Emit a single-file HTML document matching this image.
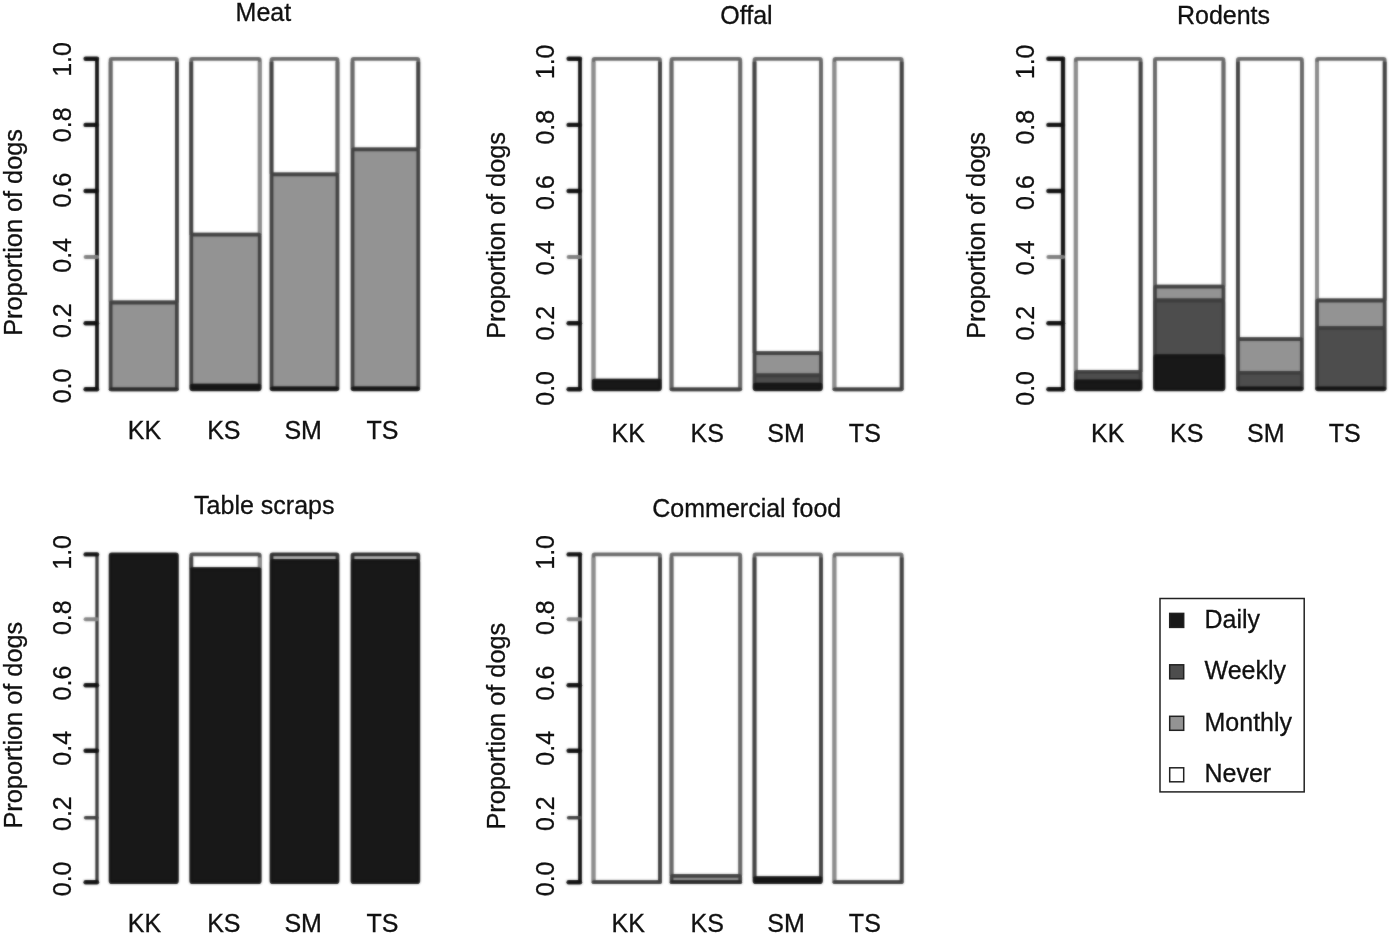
<!DOCTYPE html>
<html lang="en"><head><meta charset="utf-8"><title>Proportion of dogs fed food types</title>
<style>html,body{margin:0;padding:0;background:#fff}body{width:1400px;height:938px;overflow:hidden}svg{display:block;filter:grayscale(1)}text{font-family:"Liberation Sans", sans-serif;fill:#111;stroke:#111;stroke-width:.3px}</style></head><body>
<svg width="1400" height="938" viewBox="0 0 1400 938">
<defs><filter id="soft" color-interpolation-filters="sRGB" x="-5%" y="-5%" width="110%" height="110%"><feGaussianBlur in="SourceGraphic" stdDeviation="0.85" result="b"/><feComposite in="SourceGraphic" in2="b" operator="arithmetic" k1="0" k2="0.4" k3="0.6" k4="0"/></filter></defs>
<rect width="1400" height="938" fill="#fff"/>
<g>
<g filter="url(#soft)">
<rect x="110.60" y="58.80" width="66.30" height="243.71" rx="1.2" fill="#ffffff" stroke="#6a6a6a" stroke-width="3.80" stroke-linejoin="round"/>
<path d="M110.60 61.80 V302.51" stroke="#686868" stroke-width="3.80" fill="none"/>
<path d="M176.90 61.80 V302.51" stroke="#424242" stroke-width="3.80" fill="none"/>
<rect x="110.60" y="302.51" width="66.30" height="86.79" rx="1.2" fill="#939393" stroke="#424242" stroke-width="3.80" stroke-linejoin="round"/>
<path d="M110.60 389.30 H176.90" stroke="#2a2a2a" stroke-width="3.80" stroke-linecap="round" fill="none"/>
<rect x="191.25" y="58.80" width="68.50" height="175.83" rx="1.2" fill="#ffffff" stroke="#6a6a6a" stroke-width="3.80" stroke-linejoin="round"/>
<path d="M191.25 61.80 V234.63" stroke="#424242" stroke-width="3.80" fill="none"/>
<path d="M259.75 61.80 V234.63" stroke="#8c8c8c" stroke-width="3.80" fill="none"/>
<rect x="191.25" y="234.63" width="68.50" height="151.04" rx="1.2" fill="#939393" stroke="#424242" stroke-width="3.80" stroke-linejoin="round"/>
<rect x="191.25" y="385.66" width="68.50" height="3.64" rx="1.2" fill="#181818" stroke="#161616" stroke-width="3.80" stroke-linejoin="round"/>
<rect x="271.50" y="58.80" width="66.00" height="115.51" rx="1.2" fill="#ffffff" stroke="#6a6a6a" stroke-width="3.80" stroke-linejoin="round"/>
<path d="M271.50 61.80 V174.31" stroke="#424242" stroke-width="3.80" fill="none"/>
<path d="M337.50 61.80 V174.31" stroke="#686868" stroke-width="3.80" fill="none"/>
<rect x="271.50" y="174.31" width="66.00" height="214.00" rx="1.2" fill="#939393" stroke="#424242" stroke-width="3.80" stroke-linejoin="round"/>
<rect x="271.50" y="388.31" width="66.00" height="0.99" rx="1.2" fill="#181818" stroke="#161616" stroke-width="3.80" stroke-linejoin="round"/>
<rect x="352.50" y="58.80" width="65.80" height="90.56" rx="1.2" fill="#ffffff" stroke="#6a6a6a" stroke-width="3.80" stroke-linejoin="round"/>
<path d="M352.50 61.80 V149.36" stroke="#686868" stroke-width="3.80" fill="none"/>
<path d="M418.30 61.80 V149.36" stroke="#424242" stroke-width="3.80" fill="none"/>
<rect x="352.50" y="149.36" width="65.80" height="238.95" rx="1.2" fill="#939393" stroke="#424242" stroke-width="3.80" stroke-linejoin="round"/>
<rect x="352.50" y="388.31" width="65.80" height="0.99" rx="1.2" fill="#181818" stroke="#161616" stroke-width="3.80" stroke-linejoin="round"/>
<path d="M97.00 58.80 V389.30" stroke="#141414" stroke-width="3.80" stroke-linecap="round" fill="none"/>
<path d="M85.60 389.30 H97.00" stroke="#101010" stroke-width="4.40" stroke-linecap="round" fill="none"/>
<path d="M85.60 323.20 H97.00" stroke="#101010" stroke-width="4.40" stroke-linecap="round" fill="none"/>
<path d="M85.60 257.10 H97.00" stroke="#808080" stroke-width="4.00" stroke-linecap="round" fill="none"/>
<path d="M85.60 191.00 H97.00" stroke="#101010" stroke-width="4.40" stroke-linecap="round" fill="none"/>
<path d="M85.60 124.90 H97.00" stroke="#101010" stroke-width="4.40" stroke-linecap="round" fill="none"/>
<path d="M85.60 58.80 H97.00" stroke="#101010" stroke-width="4.40" stroke-linecap="round" fill="none"/>
</g>
<text transform="translate(71.10 385.95) rotate(-90)" text-anchor="middle" font-size="25">0.0</text>
<text transform="translate(71.10 320.65) rotate(-90)" text-anchor="middle" font-size="25">0.2</text>
<text transform="translate(71.10 255.35) rotate(-90)" text-anchor="middle" font-size="25">0.4</text>
<text transform="translate(71.10 190.05) rotate(-90)" text-anchor="middle" font-size="25">0.6</text>
<text transform="translate(71.10 124.75) rotate(-90)" text-anchor="middle" font-size="25">0.8</text>
<text transform="translate(71.10 59.45) rotate(-90)" text-anchor="middle" font-size="25">1.0</text>
<text transform="translate(22.20 232.40) rotate(-90)" text-anchor="middle" font-size="25.3">Proportion of dogs</text>
<text x="263.40" y="21.30" text-anchor="middle" font-size="25">Meat</text>
<text x="144.50" y="439.20" text-anchor="middle" font-size="25">KK</text>
<text x="223.85" y="439.20" text-anchor="middle" font-size="25">KS</text>
<text x="303.20" y="439.20" text-anchor="middle" font-size="25">SM</text>
<text x="382.55" y="439.20" text-anchor="middle" font-size="25">TS</text>
</g>
<g>
<g filter="url(#soft)">
<rect x="593.50" y="58.80" width="66.50" height="321.91" rx="1.2" fill="#ffffff" stroke="#6a6a6a" stroke-width="3.80" stroke-linejoin="round"/>
<path d="M593.50 61.80 V380.71" stroke="#8c8c8c" stroke-width="3.80" fill="none"/>
<path d="M660.00 61.80 V380.71" stroke="#424242" stroke-width="3.80" fill="none"/>
<rect x="593.50" y="380.71" width="66.50" height="8.59" rx="1.2" fill="#181818" stroke="#161616" stroke-width="3.80" stroke-linejoin="round"/>
<rect x="671.50" y="58.80" width="68.75" height="330.50" rx="1.2" fill="#ffffff" stroke="#6a6a6a" stroke-width="3.80" stroke-linejoin="round"/>
<path d="M671.50 61.80 V389.30" stroke="#686868" stroke-width="3.80" fill="none"/>
<path d="M740.25 61.80 V389.30" stroke="#686868" stroke-width="3.80" fill="none"/>
<path d="M671.50 389.30 H740.25" stroke="#404040" stroke-width="3.80" stroke-linecap="round" fill="none"/>
<rect x="754.50" y="58.80" width="66.50" height="294.38" rx="1.2" fill="#ffffff" stroke="#6a6a6a" stroke-width="3.80" stroke-linejoin="round"/>
<path d="M754.50 61.80 V353.18" stroke="#424242" stroke-width="3.80" fill="none"/>
<path d="M821.00 61.80 V353.18" stroke="#686868" stroke-width="3.80" fill="none"/>
<rect x="754.50" y="353.18" width="66.50" height="22.24" rx="1.2" fill="#939393" stroke="#424242" stroke-width="3.80" stroke-linejoin="round"/>
<rect x="754.50" y="375.42" width="66.50" height="9.25" rx="1.2" fill="#4d4d4d" stroke="#3e3e3e" stroke-width="3.80" stroke-linejoin="round"/>
<rect x="754.50" y="384.67" width="66.50" height="4.63" rx="1.2" fill="#181818" stroke="#161616" stroke-width="3.80" stroke-linejoin="round"/>
<rect x="834.40" y="58.80" width="67.30" height="330.50" rx="1.2" fill="#ffffff" stroke="#6a6a6a" stroke-width="3.80" stroke-linejoin="round"/>
<path d="M834.40 61.80 V389.30" stroke="#8c8c8c" stroke-width="3.80" fill="none"/>
<path d="M901.70 61.80 V389.30" stroke="#424242" stroke-width="3.80" fill="none"/>
<path d="M834.40 389.30 H901.70" stroke="#404040" stroke-width="3.80" stroke-linecap="round" fill="none"/>
<path d="M580.00 58.80 V389.30" stroke="#141414" stroke-width="3.80" stroke-linecap="round" fill="none"/>
<path d="M568.60 389.30 H580.00" stroke="#101010" stroke-width="4.40" stroke-linecap="round" fill="none"/>
<path d="M568.60 323.20 H580.00" stroke="#101010" stroke-width="4.40" stroke-linecap="round" fill="none"/>
<path d="M568.60 257.10 H580.00" stroke="#808080" stroke-width="4.00" stroke-linecap="round" fill="none"/>
<path d="M568.60 191.00 H580.00" stroke="#101010" stroke-width="4.40" stroke-linecap="round" fill="none"/>
<path d="M568.60 124.90 H580.00" stroke="#101010" stroke-width="4.40" stroke-linecap="round" fill="none"/>
<path d="M568.60 58.80 H580.00" stroke="#101010" stroke-width="4.40" stroke-linecap="round" fill="none"/>
</g>
<text transform="translate(554.30 388.40) rotate(-90)" text-anchor="middle" font-size="25">0.0</text>
<text transform="translate(554.30 323.10) rotate(-90)" text-anchor="middle" font-size="25">0.2</text>
<text transform="translate(554.30 257.80) rotate(-90)" text-anchor="middle" font-size="25">0.4</text>
<text transform="translate(554.30 192.50) rotate(-90)" text-anchor="middle" font-size="25">0.6</text>
<text transform="translate(554.30 127.20) rotate(-90)" text-anchor="middle" font-size="25">0.8</text>
<text transform="translate(554.30 61.90) rotate(-90)" text-anchor="middle" font-size="25">1.0</text>
<text transform="translate(504.70 235.40) rotate(-90)" text-anchor="middle" font-size="25.3">Proportion of dogs</text>
<text x="746.50" y="23.80" text-anchor="middle" font-size="25">Offal</text>
<text x="628.30" y="441.60" text-anchor="middle" font-size="25">KK</text>
<text x="707.15" y="441.60" text-anchor="middle" font-size="25">KS</text>
<text x="786.00" y="441.60" text-anchor="middle" font-size="25">SM</text>
<text x="864.85" y="441.60" text-anchor="middle" font-size="25">TS</text>
</g>
<g>
<g filter="url(#soft)">
<rect x="1075.75" y="58.80" width="64.85" height="313.12" rx="1.2" fill="#ffffff" stroke="#6a6a6a" stroke-width="3.80" stroke-linejoin="round"/>
<path d="M1075.75 61.80 V371.92" stroke="#8c8c8c" stroke-width="3.80" fill="none"/>
<path d="M1140.60 61.80 V371.92" stroke="#424242" stroke-width="3.80" fill="none"/>
<rect x="1075.75" y="371.92" width="64.85" height="9.45" rx="1.2" fill="#4d4d4d" stroke="#3e3e3e" stroke-width="3.80" stroke-linejoin="round"/>
<rect x="1075.75" y="381.37" width="64.85" height="7.93" rx="1.2" fill="#181818" stroke="#161616" stroke-width="3.80" stroke-linejoin="round"/>
<rect x="1154.90" y="58.80" width="68.60" height="227.88" rx="1.2" fill="#ffffff" stroke="#6a6a6a" stroke-width="3.80" stroke-linejoin="round"/>
<path d="M1154.90 61.80 V286.68" stroke="#686868" stroke-width="3.80" fill="none"/>
<path d="M1223.50 61.80 V286.68" stroke="#686868" stroke-width="3.80" fill="none"/>
<rect x="1154.90" y="286.68" width="68.60" height="13.81" rx="1.2" fill="#939393" stroke="#424242" stroke-width="3.80" stroke-linejoin="round"/>
<rect x="1154.90" y="300.49" width="68.60" height="55.76" rx="1.2" fill="#4d4d4d" stroke="#3e3e3e" stroke-width="3.80" stroke-linejoin="round"/>
<rect x="1154.90" y="356.25" width="68.60" height="33.05" rx="1.2" fill="#181818" stroke="#161616" stroke-width="3.80" stroke-linejoin="round"/>
<rect x="1237.90" y="58.80" width="64.00" height="280.40" rx="1.2" fill="#ffffff" stroke="#6a6a6a" stroke-width="3.80" stroke-linejoin="round"/>
<path d="M1237.90 61.80 V339.20" stroke="#424242" stroke-width="3.80" fill="none"/>
<path d="M1301.90 61.80 V339.20" stroke="#686868" stroke-width="3.80" fill="none"/>
<rect x="1237.90" y="339.20" width="64.00" height="33.58" rx="1.2" fill="#939393" stroke="#424242" stroke-width="3.80" stroke-linejoin="round"/>
<rect x="1237.90" y="372.78" width="64.00" height="15.53" rx="1.2" fill="#4d4d4d" stroke="#3e3e3e" stroke-width="3.80" stroke-linejoin="round"/>
<rect x="1237.90" y="388.31" width="64.00" height="0.99" rx="1.2" fill="#181818" stroke="#161616" stroke-width="3.80" stroke-linejoin="round"/>
<rect x="1317.00" y="58.80" width="67.70" height="241.69" rx="1.2" fill="#ffffff" stroke="#6a6a6a" stroke-width="3.80" stroke-linejoin="round"/>
<path d="M1317.00 61.80 V300.49" stroke="#8c8c8c" stroke-width="3.80" fill="none"/>
<path d="M1384.70 61.80 V300.49" stroke="#424242" stroke-width="3.80" fill="none"/>
<rect x="1317.00" y="300.49" width="67.70" height="27.66" rx="1.2" fill="#939393" stroke="#424242" stroke-width="3.80" stroke-linejoin="round"/>
<rect x="1317.00" y="328.16" width="67.70" height="60.15" rx="1.2" fill="#4d4d4d" stroke="#3e3e3e" stroke-width="3.80" stroke-linejoin="round"/>
<rect x="1317.00" y="388.31" width="67.70" height="0.99" rx="1.2" fill="#181818" stroke="#161616" stroke-width="3.80" stroke-linejoin="round"/>
<path d="M1063.00 58.80 V389.30" stroke="#141414" stroke-width="4.30" stroke-linecap="round" fill="none"/>
<path d="M1048.40 389.30 H1063.00" stroke="#101010" stroke-width="4.40" stroke-linecap="round" fill="none"/>
<path d="M1048.40 323.20 H1063.00" stroke="#101010" stroke-width="4.40" stroke-linecap="round" fill="none"/>
<path d="M1048.40 257.10 H1063.00" stroke="#808080" stroke-width="4.00" stroke-linecap="round" fill="none"/>
<path d="M1048.40 191.00 H1063.00" stroke="#101010" stroke-width="4.40" stroke-linecap="round" fill="none"/>
<path d="M1048.40 124.90 H1063.00" stroke="#101010" stroke-width="4.40" stroke-linecap="round" fill="none"/>
<path d="M1048.40 58.80 H1063.00" stroke="#101010" stroke-width="4.40" stroke-linecap="round" fill="none"/>
</g>
<text transform="translate(1034.30 388.40) rotate(-90)" text-anchor="middle" font-size="25">0.0</text>
<text transform="translate(1034.30 323.10) rotate(-90)" text-anchor="middle" font-size="25">0.2</text>
<text transform="translate(1034.30 257.80) rotate(-90)" text-anchor="middle" font-size="25">0.4</text>
<text transform="translate(1034.30 192.50) rotate(-90)" text-anchor="middle" font-size="25">0.6</text>
<text transform="translate(1034.30 127.20) rotate(-90)" text-anchor="middle" font-size="25">0.8</text>
<text transform="translate(1034.30 61.90) rotate(-90)" text-anchor="middle" font-size="25">1.0</text>
<text transform="translate(984.70 235.40) rotate(-90)" text-anchor="middle" font-size="25.3">Proportion of dogs</text>
<text x="1223.50" y="23.80" text-anchor="middle" font-size="25">Rodents</text>
<text x="1107.80" y="441.60" text-anchor="middle" font-size="25">KK</text>
<text x="1186.80" y="441.60" text-anchor="middle" font-size="25">KS</text>
<text x="1265.80" y="441.60" text-anchor="middle" font-size="25">SM</text>
<text x="1344.80" y="441.60" text-anchor="middle" font-size="25">TS</text>
</g>
<g>
<g filter="url(#soft)">
<rect x="110.60" y="554.40" width="66.30" height="327.80" rx="1.2" fill="#181818" stroke="#161616" stroke-width="3.80" stroke-linejoin="round"/>
<rect x="191.25" y="554.40" width="68.50" height="14.75" rx="1.2" fill="#ffffff" stroke="#505050" stroke-width="3.80" stroke-linejoin="round"/>
<path d="M191.25 557.40 V569.15" stroke="#424242" stroke-width="3.80" fill="none"/>
<path d="M259.75 557.40 V569.15" stroke="#8c8c8c" stroke-width="3.80" fill="none"/>
<rect x="191.25" y="569.15" width="68.50" height="313.05" rx="1.2" fill="#181818" stroke="#161616" stroke-width="3.80" stroke-linejoin="round"/>
<rect x="271.50" y="554.40" width="66.00" height="6.56" rx="1.2" fill="#b2b2b2" stroke="#303030" stroke-width="3.80" stroke-linejoin="round"/>
<rect x="271.50" y="560.96" width="66.00" height="321.24" rx="1.2" fill="#181818" stroke="#161616" stroke-width="3.80" stroke-linejoin="round"/>
<rect x="352.50" y="554.40" width="65.80" height="6.56" rx="1.2" fill="#b2b2b2" stroke="#303030" stroke-width="3.80" stroke-linejoin="round"/>
<rect x="352.50" y="560.96" width="65.80" height="321.24" rx="1.2" fill="#181818" stroke="#161616" stroke-width="3.80" stroke-linejoin="round"/>
<path d="M97.00 554.40 V882.20" stroke="#383838" stroke-width="3.30" stroke-linecap="round" fill="none"/>
<path d="M85.60 882.20 H97.00" stroke="#101010" stroke-width="4.40" stroke-linecap="round" fill="none"/>
<path d="M85.60 817.80 H97.00" stroke="#404040" stroke-width="3.60" stroke-linecap="round" fill="none"/>
<path d="M85.60 750.70 H97.00" stroke="#101010" stroke-width="4.40" stroke-linecap="round" fill="none"/>
<path d="M85.60 685.20 H97.00" stroke="#101010" stroke-width="4.40" stroke-linecap="round" fill="none"/>
<path d="M85.60 619.20 H97.00" stroke="#858585" stroke-width="4.00" stroke-linecap="round" fill="none"/>
<path d="M85.60 554.40 H97.00" stroke="#101010" stroke-width="4.40" stroke-linecap="round" fill="none"/>
</g>
<text transform="translate(71.10 878.90) rotate(-90)" text-anchor="middle" font-size="25">0.0</text>
<text transform="translate(71.10 813.60) rotate(-90)" text-anchor="middle" font-size="25">0.2</text>
<text transform="translate(71.10 748.30) rotate(-90)" text-anchor="middle" font-size="25">0.4</text>
<text transform="translate(71.10 683.00) rotate(-90)" text-anchor="middle" font-size="25">0.6</text>
<text transform="translate(71.10 617.70) rotate(-90)" text-anchor="middle" font-size="25">0.8</text>
<text transform="translate(71.10 552.40) rotate(-90)" text-anchor="middle" font-size="25">1.0</text>
<text transform="translate(22.20 725.20) rotate(-90)" text-anchor="middle" font-size="25.3">Proportion of dogs</text>
<text x="264.30" y="513.80" text-anchor="middle" font-size="25">Table scraps</text>
<text x="144.50" y="932.00" text-anchor="middle" font-size="25">KK</text>
<text x="223.85" y="932.00" text-anchor="middle" font-size="25">KS</text>
<text x="303.20" y="932.00" text-anchor="middle" font-size="25">SM</text>
<text x="382.55" y="932.00" text-anchor="middle" font-size="25">TS</text>
</g>
<g>
<g filter="url(#soft)">
<rect x="593.50" y="554.40" width="66.50" height="327.80" rx="1.2" fill="#ffffff" stroke="#6a6a6a" stroke-width="3.80" stroke-linejoin="round"/>
<path d="M593.50 557.40 V882.20" stroke="#8c8c8c" stroke-width="3.80" fill="none"/>
<path d="M660.00 557.40 V882.20" stroke="#424242" stroke-width="3.80" fill="none"/>
<path d="M593.50 882.20 H660.00" stroke="#404040" stroke-width="3.80" stroke-linecap="round" fill="none"/>
<rect x="671.50" y="554.40" width="68.75" height="321.57" rx="1.2" fill="#ffffff" stroke="#6a6a6a" stroke-width="3.80" stroke-linejoin="round"/>
<path d="M671.50 557.40 V875.97" stroke="#686868" stroke-width="3.80" fill="none"/>
<path d="M740.25 557.40 V875.97" stroke="#686868" stroke-width="3.80" fill="none"/>
<rect x="671.50" y="875.97" width="68.75" height="6.23" rx="1.2" fill="#939393" stroke="#424242" stroke-width="3.80" stroke-linejoin="round"/>
<path d="M671.50 882.20 H740.25" stroke="#2a2a2a" stroke-width="3.80" stroke-linecap="round" fill="none"/>
<rect x="754.50" y="554.40" width="66.50" height="323.87" rx="1.2" fill="#ffffff" stroke="#6a6a6a" stroke-width="3.80" stroke-linejoin="round"/>
<path d="M754.50 557.40 V878.27" stroke="#424242" stroke-width="3.80" fill="none"/>
<path d="M821.00 557.40 V878.27" stroke="#424242" stroke-width="3.80" fill="none"/>
<rect x="754.50" y="878.27" width="66.50" height="3.93" rx="1.2" fill="#181818" stroke="#161616" stroke-width="3.80" stroke-linejoin="round"/>
<rect x="834.40" y="554.40" width="67.30" height="327.80" rx="1.2" fill="#ffffff" stroke="#6a6a6a" stroke-width="3.80" stroke-linejoin="round"/>
<path d="M834.40 557.40 V882.20" stroke="#8c8c8c" stroke-width="3.80" fill="none"/>
<path d="M901.70 557.40 V882.20" stroke="#424242" stroke-width="3.80" fill="none"/>
<path d="M834.40 882.20 H901.70" stroke="#404040" stroke-width="3.80" stroke-linecap="round" fill="none"/>
<path d="M580.00 554.40 V882.20" stroke="#141414" stroke-width="3.80" stroke-linecap="round" fill="none"/>
<path d="M568.60 882.20 H580.00" stroke="#101010" stroke-width="4.40" stroke-linecap="round" fill="none"/>
<path d="M568.60 817.80 H580.00" stroke="#404040" stroke-width="3.60" stroke-linecap="round" fill="none"/>
<path d="M568.60 750.70 H580.00" stroke="#101010" stroke-width="4.40" stroke-linecap="round" fill="none"/>
<path d="M568.60 685.20 H580.00" stroke="#101010" stroke-width="4.40" stroke-linecap="round" fill="none"/>
<path d="M568.60 619.20 H580.00" stroke="#858585" stroke-width="4.00" stroke-linecap="round" fill="none"/>
<path d="M568.60 554.40 H580.00" stroke="#101010" stroke-width="4.40" stroke-linecap="round" fill="none"/>
</g>
<text transform="translate(554.30 878.90) rotate(-90)" text-anchor="middle" font-size="25">0.0</text>
<text transform="translate(554.30 813.60) rotate(-90)" text-anchor="middle" font-size="25">0.2</text>
<text transform="translate(554.30 748.30) rotate(-90)" text-anchor="middle" font-size="25">0.4</text>
<text transform="translate(554.30 683.00) rotate(-90)" text-anchor="middle" font-size="25">0.6</text>
<text transform="translate(554.30 617.70) rotate(-90)" text-anchor="middle" font-size="25">0.8</text>
<text transform="translate(554.30 552.40) rotate(-90)" text-anchor="middle" font-size="25">1.0</text>
<text transform="translate(504.70 726.20) rotate(-90)" text-anchor="middle" font-size="25.3">Proportion of dogs</text>
<text x="746.80" y="517.10" text-anchor="middle" font-size="25">Commercial food</text>
<text x="628.30" y="932.00" text-anchor="middle" font-size="25">KK</text>
<text x="707.15" y="932.00" text-anchor="middle" font-size="25">KS</text>
<text x="786.00" y="932.00" text-anchor="middle" font-size="25">SM</text>
<text x="864.85" y="932.00" text-anchor="middle" font-size="25">TS</text>
</g>
<g>
<rect x="1160" y="598.5" width="144.2" height="193.4" fill="#fff" stroke="#222" stroke-width="1.5"/>
<rect x="1169.7" y="613.40" width="14" height="14" fill="#181818" stroke="#222" stroke-width="1.5"/>
<text x="1204.5" y="628.00" font-size="25">Daily</text>
<rect x="1169.7" y="664.80" width="14" height="14" fill="#4d4d4d" stroke="#222" stroke-width="1.5"/>
<text x="1204.5" y="679.40" font-size="25">Weekly</text>
<rect x="1169.7" y="716.30" width="14" height="14" fill="#939393" stroke="#222" stroke-width="1.5"/>
<text x="1204.5" y="730.90" font-size="25">Monthly</text>
<rect x="1169.7" y="767.80" width="14" height="14" fill="#ffffff" stroke="#222" stroke-width="1.5"/>
<text x="1204.5" y="782.40" font-size="25">Never</text>
</g>
</svg></body></html>
